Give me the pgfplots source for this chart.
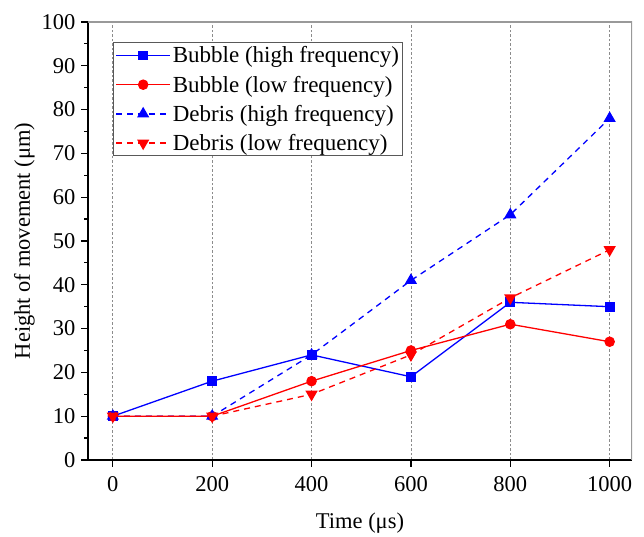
\documentclass[border=0pt]{standalone}
\usepackage{fontspec}
\setmainfont{Liberation Serif}
\usepackage{pgfplots}
\pgfplotsset{compat=1.18}
\begin{document}
\begin{tikzpicture}
\begin{axis}[
  scale only axis,
  width=544pt, height=438pt,
  xmin=-50, xmax=1045, ymin=0, ymax=100,
  axis x line*=bottom, axis y line*=left,
  axis line style={black, line width=1.3pt, -},
  xtick={0,200,...,1000},
  ytick={0,10,...,100},
  minor y tick num=1,
  tick align=outside,
  major tick length=7pt, minor tick length=4pt,
  every tick/.style={black, line width=1.2pt},
  xmajorgrids,
  major x grid style={gray!90, dash pattern=on 2.5pt off 2pt, line width=0.7pt},
  /pgf/number format/assume math mode=true,
  /pgf/number format/set thousands separator={},
  tick label style={font=\fontsize{22.5}{24}\selectfont},
  xticklabel style={yshift=-6pt},
  yticklabel style={xshift=-2pt},
  label style={font=\fontsize{22.5}{26}\selectfont},
  xlabel={Time (μs)},
  ylabel={Height of movement (μm)},
  xlabel style={yshift=-14pt},
  ylabel style={yshift=0pt},
  legend style={at={(rel axis cs:0.046,0.954)}, anchor=north west,
    draw=black!65, line width=1pt, font=\fontsize{23}{24}\selectfont,
    row sep=7.5pt, inner sep=2pt},
  legend cell align=left,
  legend image code/.code={\draw[mark repeat=2,mark phase=2,#1] plot coordinates {(0pt,0pt) (27pt,0pt) (54pt,0pt)};},
  every axis plot/.append style={line width=1.3pt},
]
\addplot[blue, mark=square*, mark size=4.3pt, mark options={solid}] coordinates {
  (0,10) (200,18) (400,24) (600,19) (800,36) (1000,35)};
\addlegendentry{Bubble (high frequency)}
\addplot[red, mark=*, mark size=4.6pt, mark options={solid}] coordinates {
  (0,10) (200,10) (400,18) (600,25) (800,31) (1000,27)};
\addlegendentry{Bubble (low frequency)}
\addplot[blue, dash pattern=on 6pt off 5pt, mark=triangle*, mark size=5.8pt, mark options={solid}] coordinates {
  (0,10) (200,10) (400,24) (600,41) (800,56) (1000,78)};
\addlegendentry{Debris (high frequency)}
\addplot[red, dash pattern=on 6pt off 5pt, mark=triangle*, mark size=5.8pt, mark options={solid, rotate=180}] coordinates {
  (0,10) (200,10) (400,15) (600,24) (800,37) (1000,48)};
\addlegendentry{Debris (low frequency)}
\draw[black!40, line width=1.6pt] (rel axis cs:0,1) -- (rel axis cs:1,1) -- (rel axis cs:1,0);
\end{axis}
\path (-88pt,-73pt) rectangle (556pt,460pt);
\end{tikzpicture}
\end{document}
